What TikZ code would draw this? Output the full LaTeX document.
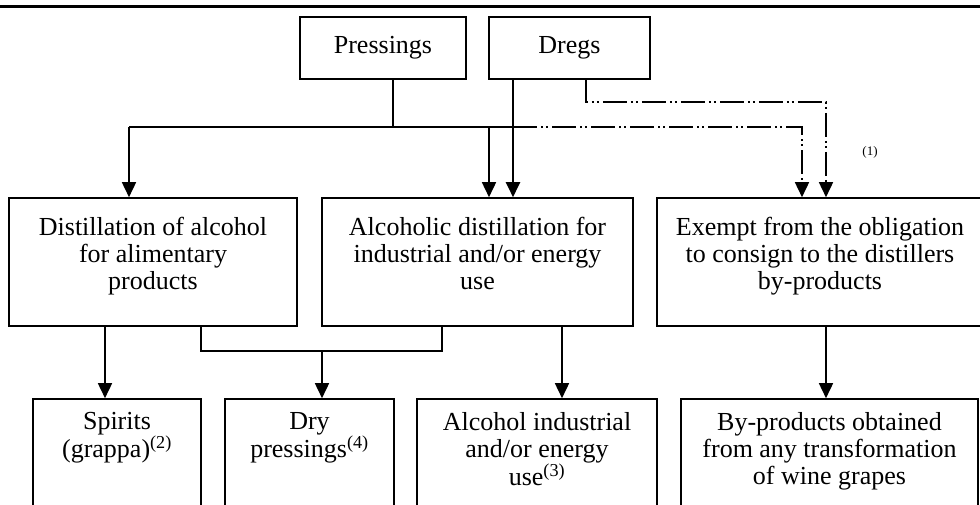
\documentclass[tikz,border=0pt]{standalone}
\usepackage{fontspec}
\setmainfont{Liberation Serif}
\usetikzlibrary{arrows.meta}
\begin{document}
\begin{tikzpicture}[x=1pt,y=-1pt,
  box/.style={draw,line width=1.6pt,inner sep=0pt,minimum width=#1},
  txt/.style={anchor=north,align=center,font=\fontsize{26}{27}\selectfont,inner sep=0pt},
  conn/.style={line width=1.6pt},
  arr/.style={line width=1.6pt,-{Triangle[length=15pt,width=14pt]}},
  thickarr/.style={line width=2.2pt,-{Triangle[length=15pt,width=14pt]}},
  dd/.style={line width=1.6pt,dash pattern=on 24pt off 4pt on 2pt off 3pt on 2pt off 4pt,-{Triangle[length=15pt,width=14pt]}},
  note/.style={font=\fontsize{13}{15}\selectfont,inner sep=0pt}]
\useasboundingbox (0,0) rectangle (980,504);
\begin{scope}
\clip (0,0) rectangle (980,504);
\draw[line width=3pt] (-5,6) -- (985,6);
% top boxes
\node[box=166pt,minimum height=62pt] (pr) at (383,48) {};
\node[txt,anchor=center] (prt) at (pr.center) {Pressings};
\node[box=161pt,minimum height=62pt] (dr) at (569.5,48) {};
\node[txt,anchor=center] (drt) at (dr.center) {Dregs};
% row 1
\node[box=288pt,minimum height=128pt] (b1) at (153,262) {};
\node[txt] (b1t) at ([yshift=-20pt]b1.north) {Distillation of alcohol\\for alimentary\\products};
\node[box=311pt,minimum height=128pt] (b2) at (477.5,262) {};
\node[txt] (b2t) at ([yshift=-20pt]b2.north) {Alcoholic distillation for\\industrial and/or energy\\use};
\node[box=326pt,minimum height=128pt] (b3) at (820,262) {};
\node[txt] (b3t) at ([yshift=-20pt]b3.north) {Exempt from the obligation\\to consign to the distillers\\by-products};
% row 2
\node[box=168pt,minimum height=140pt] (c1) at (117,469) {};
\node[txt] (c1t) at ([yshift=-14pt]c1.north) {Spirits\\(grappa)\textsuperscript{(2)}};
\node[box=169pt,minimum height=140pt] (c2) at (309.5,469) {};
\node[txt] (c2t) at ([yshift=-14pt]c2.north) {Dry\\pressings\textsuperscript{(4)}};
\node[box=240pt,minimum height=140pt] (c3) at (537,469) {};
\node[txt] (c3t) at ([yshift=-14pt]c3.north) {Alcohol industrial\\and/or energy\\use\textsuperscript{(3)}};
\node[box=297pt,minimum height=140pt] (c4) at (829.5,469) {};
\node[txt] (c4t) at ([yshift=-14pt]c4.north) {By-products obtained\\from any transformation\\of wine grapes};
\node[note] (n1) at (870,152) {(1)};
% coordinates
\coordinate (jp) at (393,127);
\coordinate (jl) at (129,127);
\coordinate (jm) at (489,127);
\coordinate (jd) at (513,127);
\coordinate (jr) at (802,127);
\coordinate (ds) at (586,102);
\coordinate (dr2) at (826,102);
\coordinate (ja) at (201,351);
\coordinate (jb) at (442,351);
\coordinate (jc) at (322,351);
% connectors top
\draw[conn] (pr.south -| jp) -- (jp);
\draw[conn] (jl) -- (jd);
\draw[arr] (jl) -- (jl |- b1.north);
\draw[arr] (jm) -- (jm |- b2.north);
\draw[thickarr] (dr.south -| jd) -- (jd |- b2.north);
\draw[dd] (jd) -- (jr) -- (jr |- b3.north);
\draw[dd] (dr.south -| ds) -- (ds) -- (dr2) -- (dr2 |- b3.north);
% connectors bottom
\draw[arr] (b1.south -| 105,0) -- (c1.north -| 105,0);
\draw[conn] (b1.south -| ja) -- (ja) -- (jb) -- (jb |- b2.south);
\draw[arr] (jc) -- (jc |- c2.north);
\draw[arr] (b2.south -| 562,0) -- (c3.north -| 562,0);
\draw[arr] (b3.south -| 826,0) -- (c4.north -| 826,0);
\end{scope}
\end{tikzpicture}
\end{document}
